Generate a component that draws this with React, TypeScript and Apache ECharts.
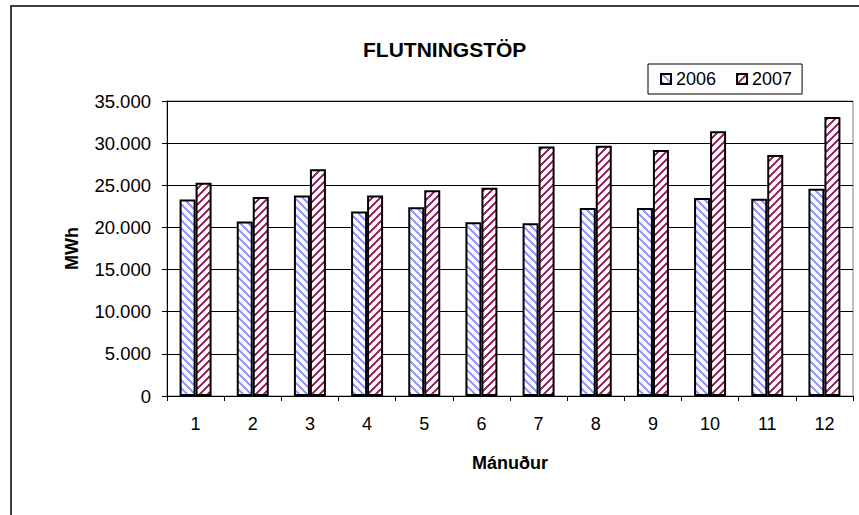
import React, { useEffect, useRef } from "react";
import * as echarts from "echarts";

const months = ["1", "2", "3", "4", "5", "6", "7", "8", "9", "10", "11", "12"];
const series2006 = [23300, 20700, 23800, 21900, 22400, 20600, 20500, 22300, 22300, 23500, 23400, 24600];
const series2007 = [25300, 23600, 26900, 23800, 24400, 24700, 29600, 29700, 29200, 31400, 28600, 33100];
const seriesNames = ["2006", "2007"];
const titleText = "FLUTNINGSTÖP";
const yName = "MWh";
const xName = "Mánuður";

const FONT = 'Arial, "Liberation Sans", sans-serif';

function makePattern(color: string, forward: boolean) {
  const c = document.createElement("canvas");
  c.width = 8;
  c.height = 8;
  const ctx = c.getContext("2d")!;
  ctx.fillStyle = "#ffffff";
  ctx.fillRect(0, 0, 8, 8);
  ctx.fillStyle = color;
  for (let x = 0; x < 8; x++) {
    for (let y = 0; y < 8; y++) {
      const d = forward ? (x + y) % 8 : (x - y + 8) % 8;
      if (d < 3) ctx.fillRect(x, y, 1, 1);
    }
  }
  return { image: c, repeat: "repeat" };
}

export default function App() {
  const ref = useRef<HTMLDivElement>(null);
  useEffect(() => {
    if (!ref.current) return;
    const chart = echarts.init(ref.current, undefined, { renderer: "svg" });
    const p2006 = makePattern("#9999FF", false);
    const p2007 = makePattern("#993366", true);
    chart.setOption({
      animation: false,
      backgroundColor: "#ffffff",
      title: {
        text: titleText,
        left: 358,
        top: 34,
        textStyle: { fontFamily: FONT, fontSize: 21, fontWeight: "bold", color: "#000" },
      },
      legend: {
        data: seriesNames,
        left: 648,
        top: 64,
        padding: [6, 10, 6, 12],
        borderColor: "#000",
        borderWidth: 1,
        itemWidth: 10,
        itemHeight: 10,
        itemGap: 20,
        icon: "rect",
        textStyle: { fontFamily: FONT, fontSize: 18, color: "#000" },
      },
      graphic: [
        {
          type: "rect",
          shape: { x: 11, y: 6, width: 1000, height: 700 },
          style: { fill: "none", stroke: "#000", lineWidth: 1.5 },
          silent: true,
          z: 100,
        },
      ],
      grid: {
        left: 167,
        top: 101,
        right: 6,
        bottom: 119,
        show: true,
        borderColor: "#808080",
        borderWidth: 1,
        backgroundColor: "transparent",
      },
      xAxis: {
        type: "category",
        data: months,
        name: xName,
        nameLocation: "middle",
        nameGap: 58,
        nameTextStyle: { fontFamily: FONT, fontSize: 18, fontWeight: "bold", color: "#000" },
        axisLine: { show: true, lineStyle: { color: "#000", width: 1 } },
        axisTick: { show: true, length: 5, lineStyle: { color: "#000" } },
        axisLabel: { fontFamily: FONT, fontSize: 18, color: "#000", margin: 19 },
      },
      yAxis: {
        type: "value",
        min: 0,
        max: 35000,
        interval: 5000,
        name: yName,
        nameLocation: "middle",
        nameGap: 86,
        nameTextStyle: { fontFamily: FONT, fontSize: 18, fontWeight: "bold", color: "#000" },
        axisLine: { show: true, lineStyle: { color: "#000", width: 1 } },
        axisTick: { show: true, length: 5, lineStyle: { color: "#000" } },
        splitLine: { show: true, lineStyle: { color: "#000", width: 1 } },
        axisLabel: {
          fontFamily: FONT,
          fontSize: 18.5,
          color: "#000",
          margin: 16,
          formatter: (v: number) => (v === 0 ? "0" : v.toLocaleString("de-DE")),
        },
      },
      series: [
        {
          name: seriesNames[0],
          type: "bar",
          data: series2006,
          barWidth: 16,
          barGap: "0%",
          itemStyle: { color: p2006, borderColor: "#000", borderWidth: 2 },
        },
        {
          name: seriesNames[1],
          type: "bar",
          data: series2007,
          barWidth: 16,
          barGap: "0%",
          itemStyle: { color: p2007, borderColor: "#000", borderWidth: 2 },
        },
      ],
    });
    return () => chart.dispose();
  }, []);
  return (
    <div
      ref={ref}
      style={{ position: "fixed", left: 0, top: 0, width: 859, height: 515, background: "#fff" }}
    />
  );
}
